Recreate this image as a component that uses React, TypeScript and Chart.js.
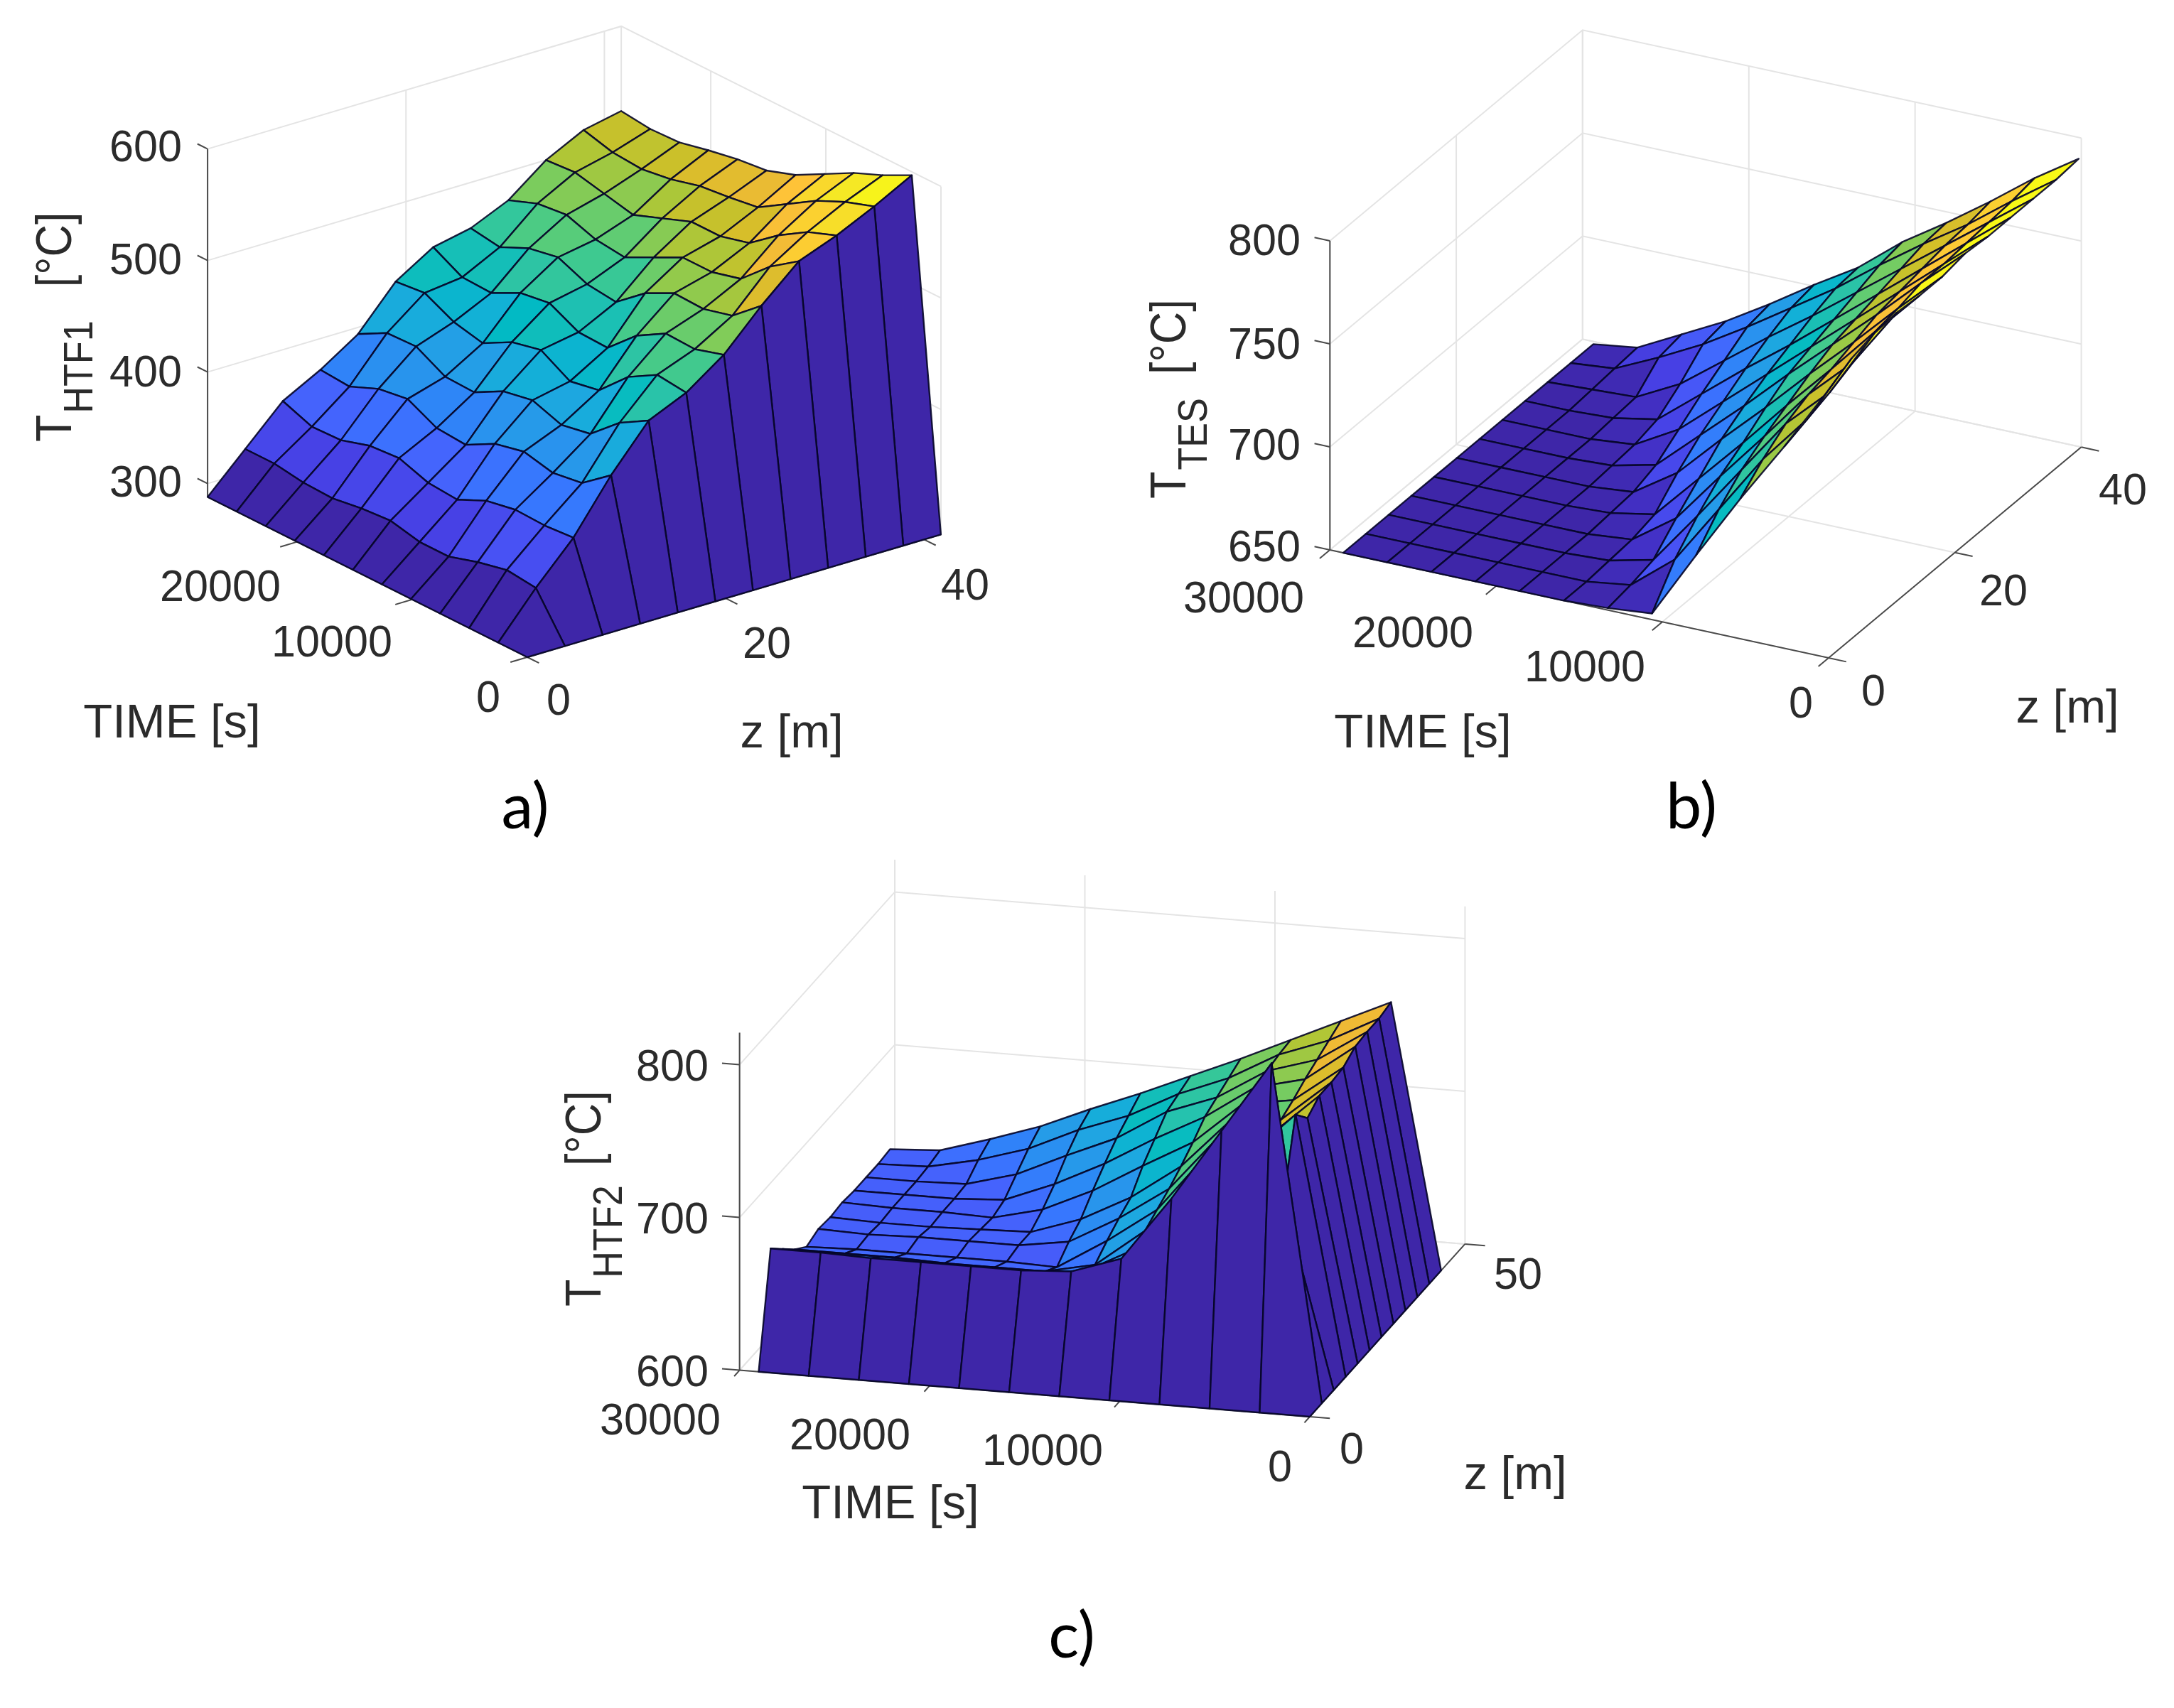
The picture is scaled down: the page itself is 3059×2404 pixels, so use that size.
import React, { useEffect, useRef } from "react";
import { Chart, registerables } from "chart.js";

Chart.register(...registerables);

const W = 3059;
const H = 2404;

// ---------- values ----------
// Each row: one z step, values along the time steps (T in degC).
const tHtf1Rows: number[][] = [
  [288, 288, 288, 288, 288, 288, 288, 288, 288, 288, 288, 288],
  [288, 327, 330, 324, 316, 316, 322, 320, 316, 317, 321, 321],
  [288, 362, 360, 361, 356, 344, 346, 355, 353, 345, 344, 354],
  [288, 408, 388, 384, 390, 384, 370, 372, 385, 381, 370, 372],
  [288, 447, 432, 409, 404, 413, 408, 394, 395, 409, 408, 394],
  [288, 462, 465, 450, 425, 420, 435, 429, 415, 421, 434, 431],
  [288, 486, 478, 479, 464, 440, 441, 454, 450, 437, 438, 452],
  [288, 520, 498, 491, 492, 479, 458, 461, 472, 467, 455, 459],
  [288, 550, 532, 508, 501, 501, 488, 475, 478, 487, 484, 474],
  [288, 563, 553, 537, 517, 510, 510, 500, 490, 496, 502, 500],
  [288, 579, 570, 558, 542, 526, 522, 519, 512, 508, 510, 517],
  [288, 597, 584, 573, 559, 545, 536, 533, 528, 522, 521, 524],
];

const tTesRows: number[][] = [
  [780, 748, 718, 686, 653, 651, 650, 650, 650, 650, 650, 650],
  [786, 752, 728, 699, 670, 653, 650, 650, 650, 650, 650, 650],
  [789, 756, 736, 709, 682, 656, 651, 650, 650, 650, 650, 650],
  [790, 761, 741, 716, 692, 667, 652, 650, 650, 650, 650, 650],
  [789, 767, 744, 722, 699, 677, 655, 651, 650, 650, 650, 650],
  [789, 769, 748, 728, 707, 687, 666, 652, 650, 650, 650, 650],
  [791, 772, 752, 733, 714, 694, 675, 656, 651, 650, 650, 650],
  [790, 772, 754, 736, 718, 700, 682, 664, 652, 650, 650, 650],
  [790, 773, 756, 739, 722, 705, 689, 672, 655, 651, 650, 650],
  [790, 774, 758, 742, 726, 710, 695, 679, 663, 652, 651, 650],
  [790, 775, 759, 745, 730, 714, 700, 686, 673, 662, 652, 650],
  [791, 777, 761, 746, 732, 715, 702, 688, 675, 664, 653, 650],
];

const tHtf2Rows: number[][] = [
  [600, 600, 600, 600, 600, 600, 600, 600, 600, 600, 600, 600],
  [600, 820, 773, 726, 684, 673, 671, 671, 671, 671, 672, 672],
  [600, 722, 748, 722, 681, 664, 662, 662, 662, 663, 663, 663],
  [600, 769, 738, 725, 685, 660, 653, 653, 653, 654, 654, 654],
  [600, 758, 735, 729, 690, 667, 647, 648, 648, 648, 648, 647],
  [600, 764, 735, 732, 695, 673, 655, 650, 650, 650, 649, 650],
  [600, 764, 737, 734, 701, 678, 661, 650, 649, 648, 648, 649],
  [600, 765, 741, 736, 708, 690, 671, 656, 648, 649, 649, 650],
  [600, 770, 746, 738, 716, 699, 680, 664, 651, 649, 649, 649],
  [600, 771, 750, 740, 720, 708, 688, 674, 659, 650, 649, 649],
  [600, 771, 754, 742, 724, 711, 694, 682, 667, 657, 650, 649],
  [600, 773, 758, 743, 728, 714, 700, 687, 673, 662, 652, 650],
];

const timeTicksA = [0, 10000, 20000];
const zTicksA = [0, 20, 40];
const tempTicksA = [300, 400, 500, 600];
const timeTicksB = [0, 10000, 20000, 30000];
const zTicksB = [0, 20, 40];
const tempTicksB = [650, 700, 750, 800];
const timeTicksC = [0, 10000, 20000, 30000];
const zTicksC = [0, 50];
const tempTicksC = [600, 700, 800];

// ---------- parula colormap ----------
const parula: number[][] = [
  [0.2422, 0.1504, 0.6603], [0.2647, 0.1978, 0.7952], [0.2783, 0.2559, 0.8991], [0.281, 0.3228, 0.9579],
  [0.2699, 0.3892, 0.9906], [0.2206, 0.4603, 0.9973], [0.1786, 0.5289, 0.9682], [0.154, 0.5902, 0.9218],
  [0.1248, 0.6459, 0.8883], [0.0689, 0.6948, 0.8394], [0.0067, 0.7312, 0.766], [0.1408, 0.7584, 0.6842],
  [0.2161, 0.7843, 0.5923], [0.3406, 0.8008, 0.4789], [0.5044, 0.7993, 0.348], [0.672, 0.7793, 0.2227],
  [0.8203, 0.7498, 0.1535], [0.9393, 0.7288, 0.21], [0.997, 0.7659, 0.2199], [0.9786, 0.8386, 0.1766],
  [0.9597, 0.9135, 0.1423], [0.9769, 0.9839, 0.0805],
];

function colour(v: number): string {
  const c = Math.max(0, Math.min(1, v)) * (parula.length - 1);
  const a = Math.floor(c);
  const b = Math.min(parula.length - 1, a + 1);
  const f = c - a;
  const m = [0, 1, 2].map((k) => Math.round(255 * (parula[a][k] * (1 - f) + parula[b][k] * f)));
  return `rgb(${m[0]},${m[1]},${m[2]})`;
}

// ---------- panels ----------
type Panel = {
  get: (i: number, j: number) => number;
  x0: number; xi: number; xj: number;
  y0: number; yi: number; yj: number;
  tBase: number; kT: number;
  cMin: number; cMax: number;
  tStep: number; zStep: number;
  tMax: number; zMax: number; tempMax: number;
  tTicks: number[]; zTicks: number[]; tempTicks: number[];
};

const panels: Panel[] = [
  {
    get: (i, j) => tHtf1Rows[j][i],
    x0: 742, xi: -40.9, xj: 52.9, y0: 925, yi: -20.5, yj: -15.7, tBase: 288, kT: 1.57,
    cMin: 288, cMax: 585, tStep: 2525, zStep: 3.79, tMax: 27775, zMax: 41.7, tempMax: 600,
    tTicks: timeTicksA, zTicks: zTicksA, tempTicks: tempTicksA,
  },
  {
    get: (i, j) => tTesRows[j][i],
    x0: 2573, xi: -62.1, xj: 32, y0: 926, yi: -13.45, yj: -26.7, tBase: 650, kT: 2.9,
    cMin: 650, cMax: 791, tStep: 2655, zStep: 3.6, tMax: 30000, zMax: 40, tempMax: 800,
    tTicks: timeTicksB, zTicks: zTicksB, tempTicks: tempTicksB,
  },
  {
    get: (i, j) => tHtf2Rows[j][i],
    x0: 1843, xi: -70.5, xj: 16.8, y0: 1994, yi: -5.75, yj: -18.7, tBase: 600, kT: 2.15,
    cMin: 614, cMax: 808, tStep: 2636, zStep: 3.846, tMax: 30000, zMax: 50, tempMax: 821,
    tTicks: timeTicksC, zTicks: zTicksC, tempTicks: tempTicksC,
  },
];

const GRID = "#e4e4e4";
const AXIS = "#4a4a4a";
const EDGE = "rgba(6,6,40,0.9)";
const TEXT = "#2b2b2b";

function project(p: Panel, i: number, j: number, T: number) {
  return { x: p.x0 + p.xi * i + p.xj * j, y: p.y0 + p.yi * i + p.yj * j - (T - p.tBase) * p.kT };
}

function polyline(data: { x: number; y: number }[], color: string, width: number) {
  return {
    data, borderColor: color, borderWidth: width, pointRadius: 0, tension: 0, fill: false,
    clip: false, borderCapStyle: "butt",
  };
}

function buildPanel(p: Panel) {
  const out: any[] = [];
  const iMax = p.tMax / p.tStep;
  const jMax = p.zMax / p.zStep;
  const floorT = p.tBase;
  // back walls and floor grid
  for (const T of p.tempTicks) {
    out.push(polyline([project(p, iMax, 0, T), project(p, iMax, jMax, T), project(p, 0, jMax, T)], GRID, 2));
  }
  for (const z of p.zTicks) {
    const j = z / p.zStep;
    out.push(polyline([project(p, 0, j, floorT), project(p, iMax, j, floorT), project(p, iMax, j, p.tempMax)], GRID, 2));
  }
  for (const t of p.tTicks) {
    const i = t / p.tStep;
    out.push(polyline([project(p, i, 0, floorT), project(p, i, jMax, floorT), project(p, i, jMax, p.tempMax)], GRID, 2));
  }
  out.push(polyline([project(p, iMax, jMax, floorT), project(p, iMax, jMax, p.tempMax)], GRID, 2));
  // axes
  out.push(polyline([project(p, iMax, 0, floorT), project(p, iMax, 0, p.tempMax)], AXIS, 2));
  out.push(polyline([project(p, iMax, 0, floorT), project(p, 0, 0, floorT), project(p, 0, jMax, floorT)], AXIS, 2));
  for (const T of p.tempTicks) {
    out.push(polyline([project(p, iMax, 0, T), project(p, iMax + 0.35, 0, T)], AXIS, 2));
  }
  for (const t of p.tTicks) {
    const i = t / p.tStep;
    out.push(polyline([project(p, i, 0, floorT), project(p, i, -0.45, floorT)], AXIS, 2));
  }
  for (const z of p.zTicks) {
    const j = z / p.zStep;
    out.push(polyline([project(p, 0, j, floorT), project(p, -0.4, j, floorT)], AXIS, 2));
  }
  // surface cells, far to near
  const cells: { i: number; j: number; d: number }[] = [];
  for (let i = 0; i < 11; i++) {
    for (let j = 0; j < 11; j++) {
      cells.push({ i, j, d: p.yi * (i + 0.5) + p.yj * (j + 0.5) });
    }
  }
  cells.sort((a, b) => a.d - b.d);
  for (const { i, j } of cells) {
    const pts = [
      project(p, i, j, p.get(i, j)),
      project(p, i + 1, j, p.get(i + 1, j)),
      project(p, i + 1, j + 1, p.get(i + 1, j + 1)),
      project(p, i, j + 1, p.get(i, j + 1)),
      project(p, i, j, p.get(i, j)),
    ];
    const v = (p.get(i, j) - p.cMin) / (p.cMax - p.cMin);
    out.push({
      data: pts, borderColor: EDGE, borderWidth: 2.4, pointRadius: 0, tension: 0, clip: false,
      fill: "shape", backgroundColor: colour(v), borderJoinStyle: "round",
    });
  }
  return out;
}

// ---------- text ----------
type Label = { s: string; x: number; y: number; size?: number; sx?: number; font?: string };
const tickFont = 63;
const tickSx = 0.97;
const labels: Label[] = [
  { s: "600", x: 205, y: 206 }, { s: "500", x: 205, y: 365 }, { s: "400", x: 205, y: 523 }, { s: "300", x: 205, y: 678 },
  { s: "20000", x: 310, y: 825 }, { s: "10000", x: 467, y: 903 }, { s: "0", x: 687, y: 981 }, { s: "0", x: 786, y: 985 },
  { s: "20", x: 1079, y: 905 }, { s: "40", x: 1358, y: 823 },
  { s: "TIME [s]", x: 242, y: 1016, size: 67, sx: 1 }, { s: "z [m]", x: 1114, y: 1030, size: 67, sx: 1 },
  { s: "a)", x: 739, y: 1133, size: 90, sx: 1, font: "Lato" },

  { s: "800", x: 1779, y: 338 }, { s: "750", x: 1779, y: 484 }, { s: "700", x: 1779, y: 626 }, { s: "650", x: 1779, y: 769 },
  { s: "30000", x: 1750, y: 841 }, { s: "20000", x: 1988, y: 890 }, { s: "10000", x: 2230, y: 938 }, { s: "0", x: 2534, y: 989 },
  { s: "0", x: 2636, y: 972 }, { s: "20", x: 2819, y: 831 }, { s: "40", x: 2987, y: 689 },
  { s: "TIME [s]", x: 2002, y: 1030, size: 67, sx: 1 }, { s: "z [m]", x: 2909, y: 995, size: 67, sx: 1 },
  { s: "b)", x: 2380, y: 1133, size: 90, sx: 1, font: "Lato" },

  { s: "800", x: 946, y: 1500 }, { s: "700", x: 946, y: 1715 }, { s: "600", x: 946, y: 1930 },
  { s: "30000", x: 929, y: 1998 }, { s: "20000", x: 1196, y: 2019 }, { s: "10000", x: 1467, y: 2041 }, { s: "0", x: 1801, y: 2064 },
  { s: "0", x: 1902, y: 2039 }, { s: "50", x: 2136, y: 1793 },
  { s: "TIME [s]", x: 1253, y: 2115, size: 67, sx: 1 }, { s: "z [m]", x: 2132, y: 2074, size: 67, sx: 1 },
  { s: "c)", x: 1508, y: 2300, size: 90, sx: 1, font: "Lato" },
];

type YLabel = { sub: string; x: number; y: number; gap: number };
const yLabels: YLabel[] = [
  { sub: "HTF1", x: 100, y: 622, gap: 95 },
  { sub: "TES", x: 1668, y: 702, gap: 67 },
  { sub: "HTF2", x: 845, y: 1839, gap: 55 },
];

const textPlugin = {
  id: "panelText",
  afterDraw(chart: any) {
    const ctx = chart.ctx;
    const sx = chart.scales.x;
    const sy = chart.scales.y;
    ctx.save();
    ctx.fillStyle = TEXT;
    ctx.textAlign = "center";
    ctx.textBaseline = "middle";
    for (const l of labels) {
      ctx.save();
      ctx.translate(sx.getPixelForValue(l.x), sy.getPixelForValue(l.y + 4));
      ctx.scale(l.sx ?? tickSx, 1);
      ctx.font = `${l.size ?? tickFont}px ${l.font ?? '"Liberation Sans"'}`;
      ctx.fillStyle = l.font ? "#000000" : TEXT;
      ctx.fillText(l.s, 0, 0);
      ctx.restore();
    }
    ctx.textAlign = "left";
    ctx.textBaseline = "alphabetic";
    for (const l of yLabels) {
      ctx.save();
      ctx.translate(sx.getPixelForValue(l.x), sy.getPixelForValue(l.y));
      ctx.rotate(-Math.PI / 2);
      ctx.scale(0.9, 1);
      ctx.font = '70px "Liberation Sans"';
      ctx.fillText("T", 0, 0);
      let at = ctx.measureText("T").width + 2;
      ctx.font = '58px "Liberation Sans"';
      ctx.fillText(l.sub, at, 30);
      at += ctx.measureText(l.sub).width + l.gap * 0.55;
      ctx.font = '70px "Liberation Sans"';
      ctx.fillText("[°C]", at, 0);
      ctx.restore();
    }
    ctx.restore();
  },
};

export default function App() {
  const ref = useRef<HTMLCanvasElement | null>(null);
  useEffect(() => {
    if (!ref.current) return;
    const datasets = panels.flatMap(buildPanel).reverse();
    const chart = new Chart(ref.current, {
      type: "line",
      data: { datasets } as any,
      options: {
        animation: false,
        responsive: false,
        events: [],
        layout: { padding: 0 },
        plugins: { legend: { display: false }, tooltip: { enabled: false }, title: { display: false } },
        scales: {
          x: { type: "linear", min: 0, max: W, display: false },
          y: { type: "linear", min: 0, max: H, reverse: true, display: false },
        },
      } as any,
      plugins: [textPlugin],
    });
    return () => chart.destroy();
  }, []);
  return (
    <canvas
      ref={ref}
      width={W}
      height={H}
      style={{ position: "absolute", left: 0, top: 0, width: W, height: H, display: "block", background: "#ffffff" }}
    />
  );
}
